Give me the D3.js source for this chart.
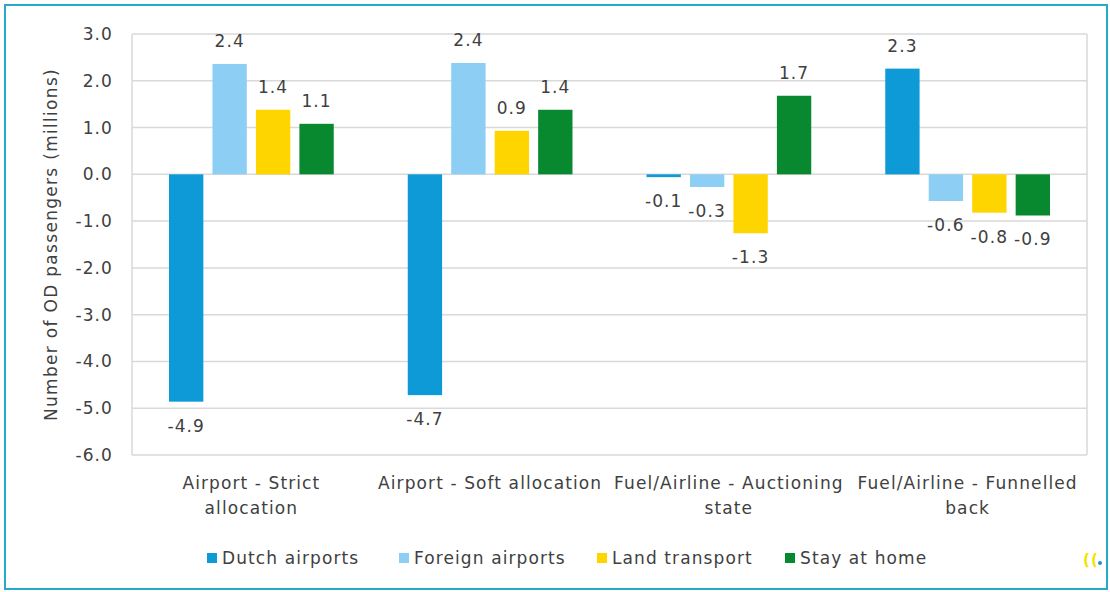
<!DOCTYPE html>
<html>
<head>
<meta charset="utf-8">
<script src="https://cdn.jsdelivr.net/npm/d3@7"></script>
<style>
  body { margin: 0; background: #fff; }
  svg text { font-family: "DejaVu Sans", sans-serif; fill: #404040; letter-spacing: 1.1px; }
</style>
</head>
<body>
<div id="chart"></div>
<script>
// scenarios (x categories), split into the lines shown under the axis
var categories = ["Airport - Strict allocation", "Airport - Soft allocation",
    "Fuel/Airline - Auctioning state", "Fuel/Airline - Funnelled back"];
var categoryLines = [["Airport - Strict", "allocation"], ["Airport - Soft allocation"],
    ["Fuel/Airline - Auctioning", "state"], ["Fuel/Airline - Funnelled", "back"]];

var seriesNames = ["Dutch airports", "Foreign airports", "Land transport", "Stay at home"];
var seriesColors = ["#0e9ad6", "#8dcff4", "#ffd500", "#08892f"];

// change in OD passengers, millions
var dutchAirports = [-4.86, -4.72, -0.06, 2.26];
var foreignAirports = [2.36, 2.38, -0.27, -0.57];
var landTransport = [1.38, 0.93, -1.26, -0.82];
var stayAtHome = [1.08, 1.38, 1.68, -0.88];

var yTicks = [3, 2, 1, 0, -1, -2, -3, -4, -5, -6];

var series = [dutchAirports, foreignAirports, landTransport, stayAtHome];

var W = 1110, H = 592;
var margin = { top: 34, right: 23, bottom: 137, left: 132 };
var width = W - margin.left - margin.right;
var height = H - margin.top - margin.bottom;

var svg = d3.select("#chart").append("svg")
    .attr("width", W).attr("height", H);

// outer frame
svg.append("rect").attr("x", 5).attr("y", 5).attr("width", W - 8).attr("height", H - 8)
    .attr("fill", "none").attr("stroke", "#27a9c8").attr("stroke-width", 2);

var g = svg.append("g").attr("transform", "translate(" + margin.left + "," + margin.top + ")");

var x0 = d3.scaleBand().domain(d3.range(categories.length)).range([0, width]).paddingInner(0.31).paddingOuter(0.155);
var x1 = d3.scaleBand().domain(d3.range(series.length)).range([0, x0.bandwidth()]).paddingInner(0.21).paddingOuter(0);
var y = d3.scaleLinear().domain([-6, 3]).range([height, 0]);

// gridlines
g.selectAll(".grid").data(yTicks).enter().append("line")
    .attr("x1", 0).attr("x2", width)
    .attr("y1", function (d) { return y(d); }).attr("y2", function (d) { return y(d); })
    .attr("stroke", "#d9d9d9").attr("stroke-width", 1.5);
g.append("line").attr("x1", 0).attr("x2", 0).attr("y1", 0).attr("y2", height).attr("stroke", "#d9d9d9").attr("stroke-width", 1.5);
g.append("line").attr("x1", width).attr("x2", width).attr("y1", 0).attr("y2", height).attr("stroke", "#d9d9d9").attr("stroke-width", 1.5);

// y axis labels (plain hyphen for negatives, like the original)
var yAxis = d3.axisLeft(y).tickValues(yTicks)
    .tickFormat(function (d) { return d.toFixed(1); })
    .tickSize(0).tickPadding(19);
var ya = g.append("g").call(yAxis);
ya.select(".domain").remove();
ya.selectAll("text").attr("font-size", 17).style("font-family", null).attr("fill", null);

g.append("text").attr("transform", "translate(-81," + (height / 2) + ") rotate(-90)")
    .attr("text-anchor", "middle").attr("dy", "0.35em").attr("font-size", 17)
    .style("letter-spacing", "1.3px")
    .text("Number of OD passengers (millions)");

// bars
var groups = g.selectAll(".cat").data(categories).enter().append("g")
    .attr("transform", function (d, i) { return "translate(" + x0(i) + ",0)"; });

groups.each(function (c, ci) {
    var gg = d3.select(this);
    series.forEach(function (s, si) {
        var v = s[ci];
        gg.append("rect")
            .attr("x", x1(si)).attr("width", x1.bandwidth())
            .attr("y", y(Math.max(0, v))).attr("height", Math.abs(y(v) - y(0)))
            .attr("fill", seriesColors[si]);
        gg.append("text")
            .attr("x", x1(si) + x1.bandwidth() / 2)
            .attr("y", v >= 0 ? y(v) - 23 : y(v) + 24)
            .attr("dy", "0.35em").attr("text-anchor", "middle").attr("font-size", 17)
            .text(v.toFixed(1));
    });
});

// category labels
categoryLines.forEach(function (lines, i) {
    var t = g.append("text").attr("text-anchor", "middle").attr("font-size", 17)
        .attr("x", x0(i) + x0.bandwidth() / 2).attr("y", height + 28);
    lines.forEach(function (l, li) {
        t.append("tspan").attr("x", x0(i) + x0.bandwidth() / 2).attr("dy", li === 0 ? "0.35em" : 25).text(l);
    });
});

// legend
var legendX = [207, 399, 597, 785];
var legend = svg.selectAll(".leg").data(seriesNames).enter().append("g")
    .attr("transform", function (d, i) { return "translate(" + legendX[i] + ",558)"; });
legend.append("rect").attr("x", 0).attr("y", -5).attr("width", 10).attr("height", 10)
    .attr("fill", function (d, i) { return seriesColors[i]; });
legend.append("text").attr("x", 15).attr("dy", "0.35em").attr("font-size", 17)
    .text(function (d) { return d; });

// small logo mark
var logo = svg.append("g").attr("transform", "translate(1083,560)");
logo.append("text").attr("font-size", 15).attr("font-weight", "bold").style("fill", "#f2e400")
    .attr("dy", "0.35em").text("((");
logo.append("circle").attr("cx", 17).attr("cy", 3).attr("r", 2).attr("fill", "#1a8fd8");
</script>
</body>
</html>
